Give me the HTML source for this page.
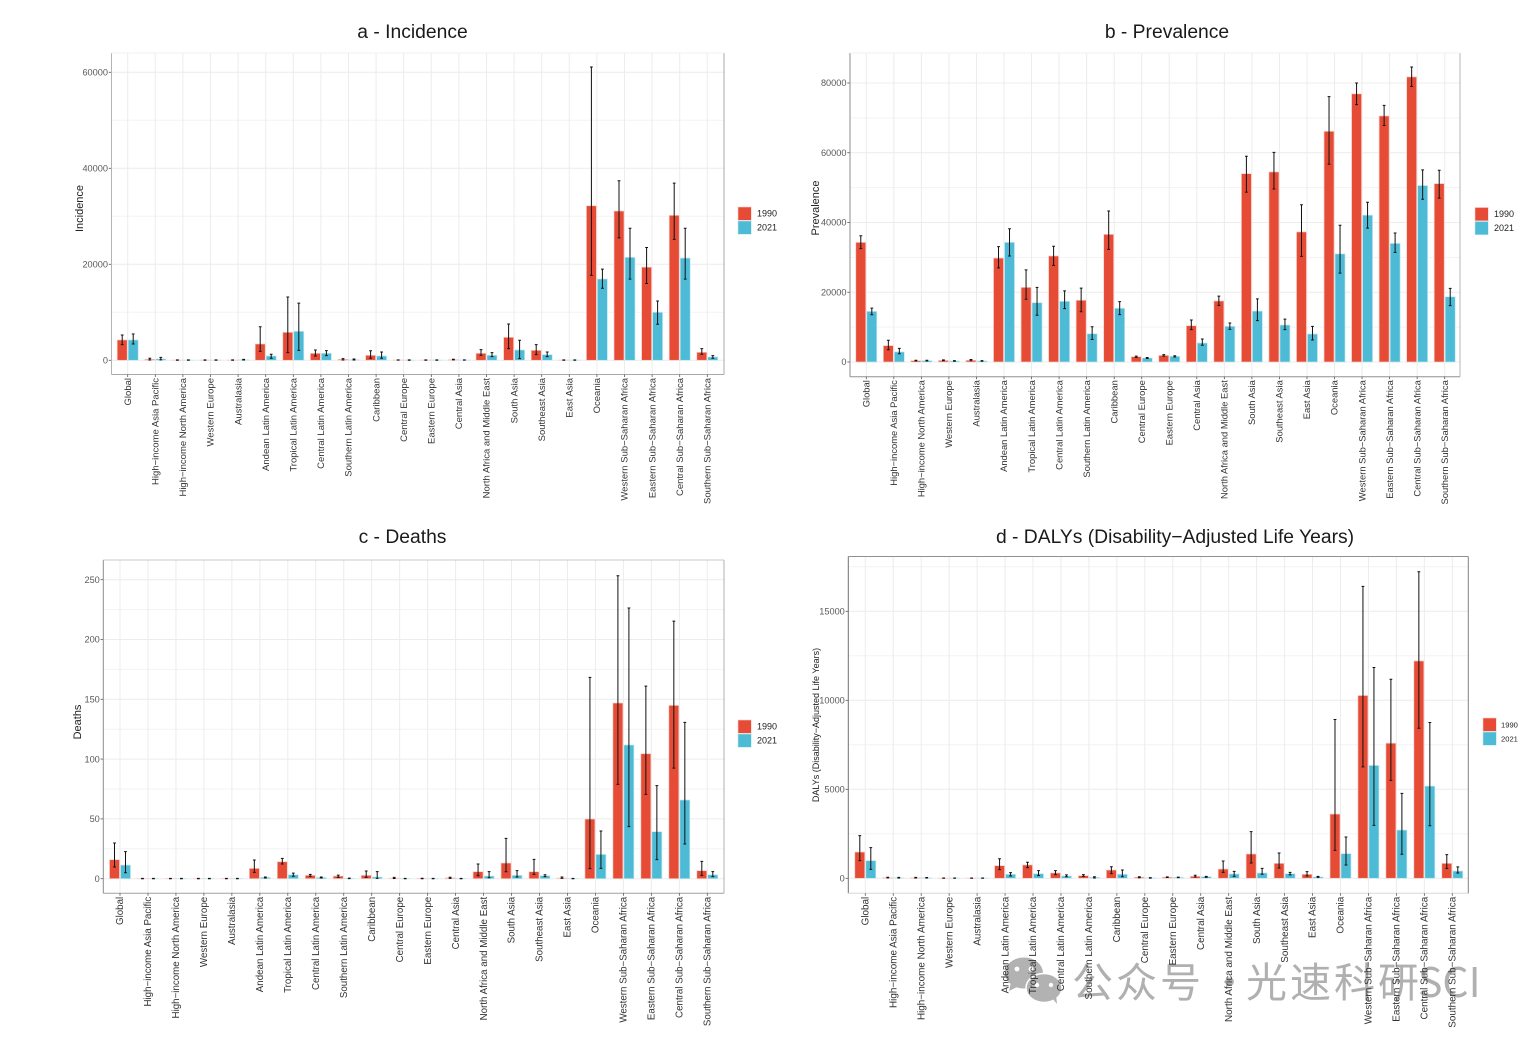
<!DOCTYPE html>
<html lang="en">
<head>
<meta charset="utf-8">
<title>Burden by region, 1990 and 2021</title>
<style>
html,body{margin:0;padding:0;background:#fff;width:1528px;height:1042px;overflow:hidden}
#figure{display:block;filter:blur(.3px)}
text{font-family:"Liberation Sans","Noto Sans CJK SC",sans-serif}
</style>
</head>
<body>
<svg id="figure" xmlns="http://www.w3.org/2000/svg" width="1528" height="1042" viewBox="0 0 1528 1042">
<g>
<g fill="#b2b2b2">
<ellipse cx="1024" cy="973" rx="19" ry="15.5"/><path d="M1011 982 l-2 9 l10 -5z"/>
<ellipse cx="1044" cy="988" rx="18" ry="14.5" stroke="#fff" stroke-width="1.5"/><path d="M1052 998 l5 6 l-1 -9z"/>
<circle cx="1017" cy="969" r="2.4" fill="#fff"/><circle cx="1031" cy="969" r="2.4" fill="#fff"/>
<circle cx="1037" cy="985" r="2.2" fill="#fff"/><circle cx="1051" cy="985" r="2.2" fill="#fff"/>
</g>
<text y="997" font-size="41" fill="#b0b0b0" style='font-family:"Noto Sans CJK SC","WenQuanYi Zen Hei",sans-serif;letter-spacing:3px'><tspan x="1072">公众号</tspan><tspan x="1209">·</tspan><tspan x="1246">光速科研</tspan><tspan x="1418" style="letter-spacing:0">SCI</tspan></text>
</g>
<g id="charts"></g>
</svg>
<script>
const categories = ["Global","High−income Asia Pacific","High−income North America","Western Europe","Australasia","Andean Latin America","Tropical Latin America","Central Latin America","Southern Latin America","Caribbean","Central Europe","Eastern Europe","Central Asia","North Africa and Middle East","South Asia","Southeast Asia","East Asia","Oceania","Western Sub−Saharan Africa","Eastern Sub−Saharan Africa","Central Sub−Saharan Africa","Southern Sub−Saharan Africa"];
const years = ["1990","2021"];

const incidenceTicks = [0,20000,40000,60000];
const incidence1990 = [4240,200,50,50,50,3400,5830,1460,200,1040,60,50,150,1460,4790,2080,50,32200,31100,19400,30200,1670];
const incidence1990Lo = [3260,50,20,20,20,1870,1600,900,70,420,30,20,80,1040,2430,1180,20,17700,25500,16000,25200,1250];
const incidence1990Hi = [5280,420,90,90,90,7000,13200,2150,350,2000,90,90,220,2220,7570,3260,90,61100,37400,23500,36900,2430];
const incidence2021 = [4240,280,40,40,130,900,6040,1460,140,900,40,40,60,1040,2150,1180,40,16940,21450,10000,21300,690];
const incidence2021Lo = [3400,100,15,15,60,420,2080,970,70,420,15,15,30,760,350,760,15,15000,16900,7500,16900,420];
const incidence2021Hi = [5480,620,80,80,200,1250,11900,2010,280,1740,80,80,100,1600,4170,1740,80,19000,27500,12360,27500,970];

const prevalenceTicks = [0,20000,40000,60000,80000];
const prevalence1990 = [34300,4700,400,450,500,29800,21400,30400,17700,36600,1530,1900,10400,17500,54000,54500,37300,66150,76900,70550,81750,51150];
const prevalence1990Lo = [32500,3500,300,350,350,27000,18000,27700,14400,32300,1340,1700,9300,16250,48700,49600,30300,56700,73800,67800,79000,47000];
const prevalence1990Hi = [36200,6250,500,600,700,33100,26400,33200,21200,43300,1700,2100,12050,18900,59000,60100,45100,76100,80000,73600,84600,55000];
const prevalence2021 = [14500,2900,400,300,300,34300,17000,17400,8100,15400,1150,1630,5450,10230,14600,10600,8030,31000,42100,34000,50600,18700];
const prevalence2021Lo = [13550,2350,300,220,220,30400,13400,15300,6450,13600,1020,1430,4800,9370,11850,9300,6300,25500,38400,31450,46650,16150];
const prevalence2021Hi = [15450,3900,500,400,400,38200,21400,20400,10100,17300,1280,1800,6600,11200,18100,12300,10200,39200,45800,37000,55100,21100];

const deathsTicks = [0,50,100,150,200,250];
const deaths1990 = [15.9,0.1,0.1,0.1,0.1,8.6,14.2,2.8,2.2,2.8,0.5,0.2,0.7,5.85,13.1,5.85,0.6,49.9,146.9,104.5,144.9,6.7];
const deaths1990Lo = [9.8,0,0,0,0,5.3,12.3,2,1.1,1.1,0.2,0,0.3,2.5,5.85,3.6,0.3,8.4,78.9,70.5,92.5,2.8];
const deaths1990Hi = [29.8,0.3,0.3,0.3,0.3,15.6,17,3.6,3,6.4,1.1,0.4,1.2,12.3,33.7,16.2,1.4,168.3,253.3,161,215.4,14.5];
const deaths2021 = [11.4,0.1,0.1,0.1,0.1,1.1,3.3,1,0.3,1.4,0.1,0.1,0.1,2.2,2.8,2.5,0.1,20.3,111.8,39.3,65.8,3.3];
const deaths2021Lo = [5,0,0,0,0,0.6,2,0.6,0.1,0.3,0,0,0,0.8,1.4,1.7,0,8.6,43.5,15.9,29,1.7];
const deaths2021Hi = [22.6,0.3,0.3,0.3,0.3,1.4,4.7,1.4,0.5,5.9,0.3,0.3,0.3,5.9,6.7,3.3,0.3,39.9,226.3,77.8,130.7,5.9];

const dalysTicks = [0,5000,10000,15000];
const dalys1990 = [1475,40,35,10,10,710,750,300,150,465,60,60,110,520,1365,840,225,3610,10270,7590,12210,840];
const dalys1990Lo = [990,25,20,5,5,485,600,205,110,260,30,45,75,335,860,580,130,1570,6260,5500,8430,560];
const dalys1990Hi = [2400,60,50,15,15,1100,900,430,205,650,90,80,170,970,2620,1420,375,8920,16400,11180,17220,1330];
const dalys2021 = [990,30,30,10,10,225,260,130,55,225,25,50,95,245,300,260,75,1385,6340,2710,5180,410];
const dalys2021Lo = [500,15,15,5,5,130,150,90,20,90,10,35,55,110,225,190,55,750,2970,1350,2950,300];
const dalys2021Hi = [1720,50,45,15,15,320,430,190,90,465,40,65,110,390,560,335,110,2320,11840,4770,8750,640];

const panelTitles = ["a - Incidence","b - Prevalence","c - Deaths","d - DALYs (Disability−Adjusted Life Years)"];
const yAxisTitles = ["Incidence","Prevalence","Deaths","DALYs (Disability−Adjusted Life Years)"];

const red = "#E64B35", blue = "#4DBBD5";
const svgNS = "http://www.w3.org/2000/svg";
const root = document.getElementById("charts");

function mk(tag, geometry, parent) {
  const el = document.createElementNS(svgNS, tag);
  for (const k in geometry) el.setAttribute(k, geometry[k]);
  parent.appendChild(el);
  return el;
}

const layouts = [
  {key:"incidence", left:111.5, right:724, top:53, bottom:374.5, x0:127.7, x1:707.3, zero:360.3, scale:0.0048, ticks:incidenceTicks,
   s:[incidence1990,incidence1990Lo,incidence1990Hi,incidence2021,incidence2021Lo,incidence2021Hi],
   titleX:412.5, titleY:38, yTitleX:83, yTitleY:208.5, yTitleSize:11, xLabelSize:9.5, lgX:738, lgY:207, lgTextX:757, lgSize:9, borderL:"#b4b4b4", borderB:"#a8a8a8", borderR:"#a8a8a8", borderT:"#f0f0f0"},
  {key:"prevalence", left:850, right:1460, top:53, bottom:376.7, x0:866.3, x1:1444.7, zero:362, scale:0.0034875, ticks:prevalenceTicks,
   s:[prevalence1990,prevalence1990Lo,prevalence1990Hi,prevalence2021,prevalence2021Lo,prevalence2021Hi],
   titleX:1167, titleY:38, yTitleX:819, yTitleY:208, yTitleSize:11, xLabelSize:9.4, lgX:1475, lgY:207.5, lgTextX:1494, lgSize:9, borderL:"#8c8c8c", borderB:"#909090", borderR:"#b4b4b4", borderT:"#f0f0f0"},
  {key:"deaths", left:103.3, right:724, top:560, bottom:893.3, x0:120, x1:707.3, zero:878.7, scale:1.196, ticks:deathsTicks,
   s:[deaths1990,deaths1990Lo,deaths1990Hi,deaths2021,deaths2021Lo,deaths2021Hi],
   titleX:402.5, titleY:543, yTitleX:81, yTitleY:722, yTitleSize:11, xLabelSize:9.75, lgX:738, lgY:720, lgTextX:757, lgSize:9, borderL:"#8c8c8c", borderB:"#a0a0a0", borderR:"#b0b0b0", borderT:"#c8c8c8"},
  {key:"dalys", left:848.3, right:1468.3, top:556.5, bottom:893.3, x0:865.3, x1:1452.3, zero:878.3, scale:0.0178, ticks:dalysTicks,
   s:[dalys1990,dalys1990Lo,dalys1990Hi,dalys2021,dalys2021Lo,dalys2021Hi],
   titleX:1175, titleY:543, yTitleX:819, yTitleY:725, yTitleSize:9, xLabelSize:9.9, lgX:1483, lgY:718, lgTextX:1501, lgSize:7.6, borderL:"#707070", borderB:"#d8d8d8", borderR:"#808080", borderT:"#909090"}
];

layouts.forEach(function (p, pi) {
  const xScale = i => p.x0 + (p.x1 - p.x0) * i / (categories.length - 1);
  const yScale = v => p.zero - v * p.scale;

  const g = mk("g", {}, root);
  
  

  const title = mk("text", {x:p.titleX, y:p.titleY, "text-anchor":"middle", "font-size":19.3, fill:"#1a1a1a"}, g);
  title.textContent = panelTitles[pi];
  
  

  const yTitle = mk("text", {transform:"translate(" + p.yTitleX + "," + p.yTitleY + ") rotate(-90)", "text-anchor":"middle", "font-size":p.yTitleSize, fill:"#222"}, g);
  yTitle.textContent = yAxisTitles[pi];
  
  

  // minor horizontal gridlines, midway between major ticks
  const step = p.ticks[1] - p.ticks[0];
  for (let v = step / 2; yScale(v) > p.top; v += step) {
    const l = mk("line", {x1:p.left, x2:p.right, y1:yScale(v), y2:yScale(v), stroke:"#f3f3f3", "stroke-width":1}, g);
    
    
  }
  // major horizontal gridlines, ticks and labels
  p.ticks.forEach(function (v) {
    const y = yScale(v);
    const l = mk("line", {x1:p.left, x2:p.right, y1:y, y2:y, stroke:"#ececec", "stroke-width":1}, g);
    
    
    const t = mk("line", {x1:p.left - 2.7, x2:p.left, y1:y, y2:y, stroke:"#555", "stroke-width":.8}, g);
    
    
    const lab = mk("text", {x:p.left - 3.5, y:y + 3.2, "text-anchor":"end", "font-size":9.2, fill:"#5a5a5a"}, g);
    lab.textContent = String(v);
    
    
  });
  // vertical gridlines
  categories.forEach(function (c, i) {
    const l = mk("line", {x1:xScale(i), x2:xScale(i), y1:p.top, y2:p.bottom, stroke:"#ececec", "stroke-width":1}, g);
    
    
  });
  // bars
  categories.forEach(function (c, i) {
    [0, 1].forEach(function (k) {
      const val = p.s[k * 3][i];
      const top = yScale(val);
      const cx = xScale(i) + (k ? 5.5 : -5.5);
      const bar = mk("rect", {x:cx - 5, y:top, width:10, height:Math.max(p.zero - top, 0), fill:k ? blue : red, stroke:k ? "#c4e8f1" : "#f8cfc9", "stroke-width":.7}, g);
      
      
    });
  });
  // error bars
  categories.forEach(function (c, i) {
    [0, 1].forEach(function (k) {
      const lo = yScale(p.s[k * 3 + 1][i]);
      const hi = yScale(p.s[k * 3 + 2][i]);
      const cx = xScale(i) + (k ? 5.5 : -5.5);
      const eb = mk("path", {d:"M" + (cx - 1.4) + " " + hi + "H" + (cx + 1.4) + "M" + cx + " " + hi + "V" + lo + "M" + (cx - 1.4) + " " + lo + "H" + (cx + 1.4), fill:"none", stroke:"#111", "stroke-width":1}, g);
      
      
    });
  });
  // panel border
  [[p.left,p.top,p.left,p.bottom,p.borderL],[p.left,p.bottom,p.right,p.bottom,p.borderB],[p.right,p.top,p.right,p.bottom,p.borderR],[p.left,p.top,p.right,p.top,p.borderT]].forEach(function (b) {
    const l = mk("line", {x1:b[0], y1:b[1], x2:b[2], y2:b[3], stroke:b[4], "stroke-width":1}, g);
    
    
  });
  // x ticks and labels
  categories.forEach(function (c, i) {
    const x = xScale(i);
    const t = mk("line", {x1:x, x2:x, y1:p.bottom, y2:p.bottom + 2.5, stroke:"#555", "stroke-width":.8}, g);
    
    
    const lab = mk("text", {transform:"translate(" + (x + 3.2) + "," + (p.bottom + 3.5) + ") rotate(-90)", "text-anchor":"end", "font-size":p.xLabelSize, fill:"#333"}, g);
    lab.textContent = c;
    
    
  });
  // legend
  years.forEach(function (yr, k) {
    const y = p.lgY + k * 14;
    const sw = mk("rect", {x:p.lgX, y:y, width:13.3, height:13.3, fill:k ? blue : red, stroke:k ? "#c4e8f1" : "#f8cfc9", "stroke-width":.6}, g);
    
    
    const lab = mk("text", {x:p.lgTextX, y:y + 9.5, "font-size":p.lgSize, fill:"#222"}, g);
    lab.textContent = yr;
    
    
  });
});
</script>
</body>
</html>
